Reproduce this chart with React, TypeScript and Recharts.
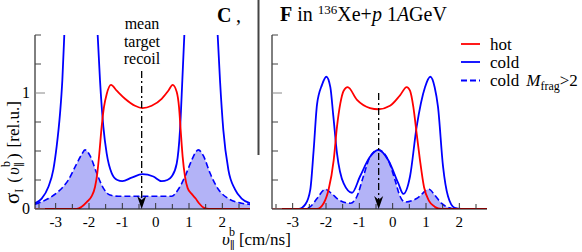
import React from "react";
import { ComposedChart, Line, Area, XAxis, YAxis, ReferenceLine, ReferenceDot } from "recharts";

// velocity v (cm/ns) -> cross section sigma (rel. u.)
const leftHot: [number, number][] = [
  [-3.62, 0], [-2.37, 0], [-2.22, 0.02], [-2.07, 0.06], [-1.92, 0.11], [-1.82, 0.19],
  [-1.75, 0.31], [-1.69, 0.48], [-1.62, 0.71], [-1.55, 0.88], [-1.47, 0.99], [-1.34, 1.07],
  [-1.17, 1.02], [-0.92, 0.95], [-0.62, 0.89], [-0.4, 0.87], [-0.12, 0.89], [0.18, 0.95],
  [0.38, 1.02], [0.51, 1.07], [0.63, 1.01], [0.7, 0.88], [0.75, 0.68], [0.81, 0.45],
  [0.88, 0.28], [0.96, 0.18], [1.08, 0.13], [1.2, 0.09], [1.3, 0.05], [1.45, 0.01],
  [1.6, 0], [2.83, 0],
];
const leftCold: [number, number][] = [
  [-3.62, 0.05], [-3.42, 0.09], [-3.22, 0.19], [-3.07, 0.34], [-2.97, 0.54], [-2.87, 0.82],
  [-2.8, 1.11], [-2.74, 1.51], [-2.55, 3.0], [-2.24, 4.2], [-1.93, 3.0], [-1.74, 1.5],
  [-1.67, 1.11], [-1.57, 0.71], [-1.47, 0.48], [-1.32, 0.31], [-1.15, 0.25], [-1.0, 0.24],
  [-0.72, 0.27], [-0.4, 0.3], [-0.07, 0.28], [0.18, 0.24], [0.35, 0.25], [0.48, 0.28],
  [0.63, 0.39], [0.73, 0.68], [0.8, 1.11], [0.86, 1.5], [1.05, 3.0], [1.36, 4.2],
  [1.67, 3.0], [1.86, 1.5], [1.93, 1.11], [2.03, 0.68], [2.18, 0.34], [2.38, 0.17],
  [2.58, 0.09], [2.83, 0.05],
];
const leftColdMulti: [number, number][] = [
  [-3.62, 0.04], [-3.22, 0.09], [-2.92, 0.15], [-2.62, 0.25], [-2.37, 0.39], [-2.22, 0.47],
  [-2.12, 0.51], [-1.97, 0.46], [-1.77, 0.31], [-1.57, 0.18], [-1.37, 0.12], [-1.12, 0.11],
  [-0.62, 0.11], [-0.02, 0.11], [0.48, 0.11], [0.68, 0.17], [0.88, 0.28], [1.08, 0.42],
  [1.2, 0.49], [1.28, 0.51], [1.43, 0.46], [1.63, 0.31], [1.88, 0.17], [2.18, 0.09],
  [2.58, 0.05], [2.83, 0.04],
];

const rightHot: [number, number][] = [
  [-3.62, 0], [-2.27, 0], [-2.07, 0.05], [-1.92, 0.17], [-1.77, 0.42], [-1.67, 0.71],
  [-1.57, 0.91], [-1.47, 1.02], [-1.35, 1.05], [-1.07, 0.94], [-0.68, 0.87], [-0.43, 0.86],
  [-0.08, 0.89], [0.22, 0.98], [0.42, 1.05], [0.52, 1.02], [0.62, 0.88], [0.72, 0.65],
  [0.82, 0.42], [0.94, 0.19], [1.09, 0.07], [1.26, 0.02], [1.46, 0], [2.83, 0],
];
const rightCold: [number, number][] = [
  [-3.62, 0], [-2.82, 0], [-2.62, 0.04], [-2.47, 0.17], [-2.37, 0.51], [-2.27, 0.9],
  [-2.12, 1.07], [-1.99, 1.14], [-1.87, 1.05], [-1.78, 0.8], [-1.67, 0.48], [-1.47, 0.22],
  [-1.22, 0.14], [-0.98, 0.28], [-0.68, 0.45], [-0.43, 0.51], [-0.13, 0.42], [0.17, 0.22],
  [0.32, 0.13], [0.52, 0.28], [0.72, 0.71], [0.97, 1.05], [1.13, 1.14], [1.26, 1.05],
  [1.36, 0.88], [1.51, 0.37], [1.66, 0.11], [1.86, 0.01], [2.06, 0], [2.83, 0],
];
const rightColdMulti: [number, number][] = [
  [-3.62, 0], [-2.67, 0], [-2.47, 0.02], [-2.27, 0.09], [-2.02, 0.17], [-1.82, 0.13],
  [-1.62, 0.08], [-1.27, 0.05], [-1.07, 0.11], [-0.88, 0.28], [-0.68, 0.45], [-0.43, 0.51],
  [-0.13, 0.42], [0.07, 0.25], [0.22, 0.11], [0.37, 0.06], [0.72, 0.09], [1.09, 0.17],
  [1.26, 0.12], [1.46, 0.05], [1.71, 0.01], [1.91, 0], [2.83, 0],
];

const xTicks = [-3.5, -3, -2.5, -2, -1.5, -1, -0.5, 0, 0.5, 1, 1.5, 2, 2.5];
const yTicks = [0, 0.25, 0.5, 0.75, 1, 1.25, 1.5];
const yLabels = [0, 1];
const recoil = -0.42;

const X_DOMAIN: [number, number] = [-3.62, 2.83];
const FONT = "'Liberation Serif', 'DejaVu Serif', serif";
const RED = "#ff0000";
const BLUE = "#0000ff";
const FILL = "#b3b3f7";

const toPts = (a: [number, number][]) => a.map(([v, s]) => ({ v, s }));

const XTick = (props: any) => {
  const { x, y, payload } = props;
  const val = payload.value;
  const major = Number.isInteger(val);
  return (
    <g>
      <line x1={x} x2={x} y1={y} y2={y - (major ? 6 : 5)} stroke="#333" />
      {major && (
        <text x={x} y={y + 18} textAnchor="middle" fontSize={15} fontFamily={FONT} fill="#000">
          {String(val)}
        </text>
      )}
    </g>
  );
};

const makeYTick = (showLabels: boolean) => (props: any) => {
  const { x, y, payload } = props;
  const val = payload.value;
  const major = yLabels.includes(val);
  return (
    <g>
      <line x1={x} x2={x + (major ? 10 : 6)} y1={y} y2={y} stroke={major ? "#888" : "#444"} />
      {showLabels && major && (
        <text x={x - 5} y={y + 5} textAnchor="end" fontSize={16} fontFamily={FONT} fill="#000">
          {String(val)}
        </text>
      )}
    </g>
  );
};

const ArrowHead = (props: any) => {
  const { cx, cy } = props;
  return <path d={`M${cx},${cy} L${cx - 4.5},${cy - 13} L${cx},${cy - 9} L${cx + 4.5},${cy - 13} Z`} fill="#000" />;
};

interface PanelProps {
  left: number;
  hot: [number, number][];
  cold: [number, number][];
  coldMulti: [number, number][];
  arrowTop: number;
  showLabels: boolean;
}

const Panel = ({ left, hot, cold, coldMulti, arrowTop, showLabels }: PanelProps) => (
  <div style={{ position: "absolute", left, top: 0 }}>
    <ComposedChart width={260} height={252} margin={{ top: 35, right: 10, bottom: 3, left: 0 }}>
      <XAxis
        type="number"
        dataKey="v"
        domain={X_DOMAIN}
        allowDataOverflow
        ticks={xTicks}
        interval={0}
        tick={<XTick />}
        tickSize={0}
        tickMargin={0}
        tickLine={false}
        height={40}
        axisLine={{ stroke: "#000" }}
      />
      <YAxis
        type="number"
        dataKey="s"
        domain={[0, 1.5]}
        allowDataOverflow
        ticks={yTicks}
        interval={0}
        tick={makeYTick(showLabels)}
        tickSize={0}
        tickMargin={0}
        tickLine={false}
        width={35}
        axisLine={{ stroke: "#000" }}
      />
      <Area
        data={toPts(coldMulti)}
        dataKey="s"
        type="monotone"
        stroke={BLUE}
        strokeWidth={1.6}
        strokeDasharray="6 3"
        fill={FILL}
        fillOpacity={1}
        dot={false}
        activeDot={false}
        isAnimationActive={false}
      />
      <Line
        data={toPts(cold)}
        dataKey="s"
        type="monotone"
        stroke={BLUE}
        strokeWidth={1.8}
        dot={false}
        activeDot={false}
        isAnimationActive={false}
      />
      <Line
        data={toPts(hot)}
        dataKey="s"
        type="monotone"
        stroke={RED}
        strokeWidth={1.8}
        dot={false}
        activeDot={false}
        isAnimationActive={false}
      />
      <ReferenceLine
        segment={[{ x: recoil, y: arrowTop }, { x: recoil, y: 0.06 }]}
        stroke="#000"
        strokeWidth={1.3}
        strokeDasharray="7 3 2 3"
      />
      <ReferenceDot x={recoil} y={0} r={1} shape={ArrowHead} ifOverflow="visible" />
    </ComposedChart>
  </div>
);

export default function App() {
  return (
    <div style={{ position: "absolute", left: 0, top: 0, width: 582, height: 252, background: "#fff", fontFamily: FONT }}>
      <Panel left={0} hot={leftHot} cold={leftCold} coldMulti={leftColdMulti} arrowTop={1.19} showLabels />
      <Panel left={237} hot={rightHot} cold={rightCold} coldMulti={rightColdMulti} arrowTop={1.0} showLabels={false} />
      <svg width={582} height={252} style={{ position: "absolute", left: 0, top: 0, pointerEvents: "none" }} fontFamily={FONT}>
        {/* panel titles */}
        <text x={217} y={22} fontSize={20} fontWeight="bold">C</text>
        <text x={236} y={22} fontSize={20}>,</text>
        <line x1={258.5} x2={258.5} y1={0} y2={155} stroke="#444" strokeWidth={2} />
        <text x={280} y={21} fontSize={20}>
          <tspan fontWeight="bold">F</tspan>
          <tspan>{" in "}</tspan>
          <tspan fontSize={13} dy={-7}>136</tspan>
          <tspan dy={7}>Xe+</tspan>
          <tspan fontStyle="italic">p</tspan>
          <tspan>{" 1"}</tspan>
          <tspan fontStyle="italic">A</tspan>
          <tspan>GeV</tspan>
        </text>

        {/* mean target recoil */}
        <text x={142} y={29} fontSize={16} textAnchor="middle">mean</text>
        <text x={142} y={46.5} fontSize={16} textAnchor="middle">target</text>
        <text x={142} y={64} fontSize={16} textAnchor="middle">recoil</text>

        {/* legend */}
        <line x1={461} x2={480} y1={44} y2={44} stroke={RED} strokeWidth={1.8} />
        <text x={490} y={49.5} fontSize={17}>hot</text>
        <line x1={461} x2={480} y1={62} y2={62} stroke={BLUE} strokeWidth={1.8} />
        <text x={490} y={67.5} fontSize={17}>cold</text>
        <line x1={461} x2={480} y1={80.5} y2={80.5} stroke={BLUE} strokeWidth={1.8} strokeDasharray="6 3" />
        <text x={490} y={86} fontSize={17}>
          <tspan>cold</tspan>
          <tspan dx={7} fontStyle="italic">M</tspan>
          <tspan fontSize={12} dy={4}>frag</tspan>
          <tspan dy={-4}>{">2"}</tspan>
        </text>

        {/* axis titles */}
        <text x={222} y={245} fontSize={17}>
          <tspan fontStyle="italic">υ</tspan>
          <tspan fontSize={11} dy={4}>∥</tspan>
          <tspan fontSize={12} dx={-6} dy={-13}>b</tspan>
          <tspan dx={4} dy={9}>{"[cm/ns]"}</tspan>
        </text>
        <text x={19} y={204} fontSize={17} transform="rotate(-90, 19, 204)">
          <tspan fontSize={21}>σ</tspan>
          <tspan fontSize={12} dy={4}>I</tspan>
          <tspan dx={6} dy={-4}>(</tspan>
          <tspan dx={2} fontStyle="italic">υ</tspan>
          <tspan fontSize={11} dy={4}>∥</tspan>
          <tspan fontSize={12} dx={-5} dy={-13}>b</tspan>
          <tspan dx={2} dy={9}>)</tspan>
          <tspan dx={6}>{"[rel.u.]"}</tspan>
        </text>
      </svg>
    </div>
  );
}
